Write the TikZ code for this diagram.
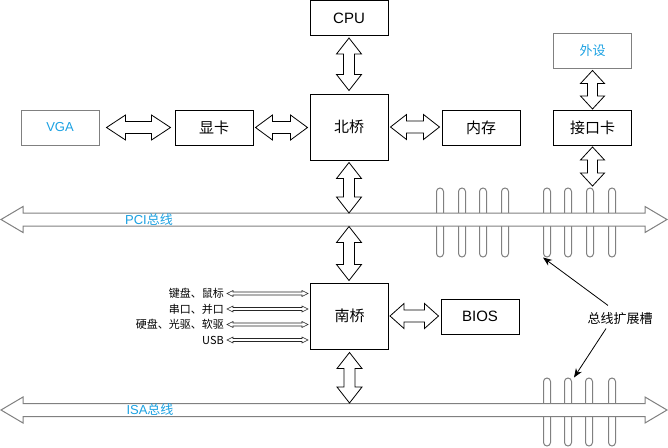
\documentclass[tikz,border=0pt]{standalone}
\usepackage{fontspec}
\setmainfont{Liberation Sans}
\newfontfamily\cjk{Noto Sans CJK SC}
\usetikzlibrary{calc,arrows.meta}
\definecolor{busblue}{HTML}{1BA1E2}
\definecolor{busgray}{HTML}{808080}

\newcommand{\hflex}[6][flex]{%
  \draw[#1] let \p1=(#2), \p2=(#3) in
    (\x1,\y1) -- (\x1+#4,\y1+#5) -- (\x1+#4,\y1+#6) -- (\x2-#4,\y1+#6)
    -- (\x2-#4,\y1+#5) -- (\x2,\y1) -- (\x2-#4,\y1-#5) -- (\x2-#4,\y1-#6)
    -- (\x1+#4,\y1-#6) -- (\x1+#4,\y1-#5) -- cycle;}
\newcommand{\vflex}[6][flex]{%
  \draw[#1] let \p1=(#2), \p2=(#3) in
    (\x1,\y1) -- (\x1+#5,\y1-#4) -- (\x1+#6,\y1-#4) -- (\x1+#6,\y2+#4)
    -- (\x1+#5,\y2+#4) -- (\x1,\y2) -- (\x1-#5,\y2+#4) -- (\x1-#6,\y2+#4)
    -- (\x1-#6,\y1-#4) -- (\x1-#5,\y1-#4) -- cycle;}

\begin{document}
\begin{tikzpicture}[x=1pt, y=-1pt,
  box/.style={draw, line width=1pt, minimum width=78pt, minimum height=35pt,
              inner sep=0pt, font=\fontsize{15pt}{18pt}\selectfont},
  cnbox/.style={box, font=\fontsize{15pt}{18pt}\selectfont\cjk},
  bridge/.style={cnbox, minimum height=66pt},
  outer/.style={box, draw=busgray, text=busblue, font=\fontsize{13pt}{16pt}\selectfont},
  slot/.style={draw=busgray, line width=1pt, rounded corners=3.5pt, minimum width=7pt,
               inner sep=0pt},
  flex/.style={draw=black, line width=0.8pt, fill=white},
  bus/.style={draw=busgray, line width=1pt, fill=white},
  thin/.style={draw=black!85, line width=0.6pt, fill=white},
  buslabel/.style={text=busblue, font=\fontsize{13pt}{16pt}\selectfont},
  small/.style={anchor=east, inner sep=1pt, font=\fontsize{11pt}{13pt}\selectfont\cjk},
  pointer/.style={-{Stealth[length=9pt,width=7pt]}, line width=0.8pt}
]
\useasboundingbox (0,0) rectangle (668,447);

\node[box]    (cpu)  at (349,18)    {CPU};
\node[bridge] (nb)   at (349,127)   {北桥};
\node[cnbox]  (gpu)  at (214,127.5) {显卡};
\node[outer]  (vga)  at (60,127.5)  {VGA};
\node[cnbox]  (mem)  at (481,127.5) {内存};
\node[cnbox]  (card) at (592.5,128) {接口卡};
\node[outer, font=\fontsize{13pt}{16pt}\selectfont\cjk] (dev) at (592.5,50.5) {外设};
\node[bridge] (sb)   at (349.5,316) {南桥};
\node[box]    (bios) at (480,316.5) {BIOS};

\foreach \x [count=\i] in {440,462,483,505,547,568,590,612}
  \node[slot, minimum height=69pt] (p\i) at (\x,222.5) {};
\foreach \x [count=\i] in {547,568,589,612}
  \node[slot, minimum height=68pt] (i\i) at (\x,412) {};

\coordinate (pciL) at (1,219.5);
\coordinate (pciR) at (667,219.5);
\coordinate (pciT) at (349,213);
\coordinate (pciB) at (349,226.5);
\coordinate (cardT) at (594,186);
\coordinate (isaL) at (1,410);
\coordinate (isaR) at (667,410);
\coordinate (isaT) at (349.5,403);

\hflex[bus]{pciL}{pciR}{22pt}{13pt}{6.5pt}
\hflex[bus]{isaL}{isaR}{22pt}{13pt}{6.5pt}
\node[buslabel] (pci) at (149,219.5) {PCI{\cjk 总线}};
\node[buslabel] (isa) at (150,410) {ISA{\cjk 总线}};

\hflex{[xshift=7pt]vga.east}{[xshift=-4pt]gpu.west}{19pt}{12.5pt}{6pt}
\hflex{[xshift=2pt]gpu.east}{[xshift=-2pt]nb.west}{17pt}{12.5pt}{6pt}
\hflex{[xshift=2pt]nb.east}{[xshift=-2pt]mem.west}{16pt}{12.5pt}{6pt}
\hflex{[xshift=1pt]sb.east}{[xshift=-2pt]bios.west}{14pt}{12.5pt}{6pt}
\vflex{[yshift=-2pt]cpu.south}{[yshift=3pt]nb.north}{16pt}{12.5pt}{5.5pt}
\vflex{[yshift=-2pt]nb.south}{pciT}{16pt}{12.5pt}{5.5pt}
\vflex{pciB}{[yshift=2pt]sb.north}{16pt}{12.5pt}{5.5pt}
\vflex{[yshift=-3pt]sb.south}{isaT}{16pt}{12.5pt}{5.5pt}
\vflex{[yshift=-2pt]dev.south}{[yshift=1pt]card.north}{13pt}{12pt}{5pt}
\vflex{[yshift=-1pt]card.south}{cardT}{13pt}{12pt}{5pt}

\node[small] (k1) at (225,293.5) {键盘、鼠标};
\node[small] (k2) at (225,309)   {串口、并口};
\node[small] (k3) at (225,324.5) {硬盘、光驱、软驱};
\node[small] (k4) at (225,340)   {USB};
\foreach \k in {k1,k2,k3,k4}{
  \hflex[thin]{[xshift=2pt]\k.east}{[xshift=-2pt]sb.west |- \k.east}{6pt}{3pt}{1.5pt}
}

\node[font=\fontsize{13pt}{16pt}\selectfont\cjk] (note) at (620,319) {总线扩展槽};
\draw[pointer] ([xshift=-12pt,yshift=4pt]note.north) -- (p5.south west);
\draw[pointer] ([xshift=-14pt]note.south) -- ([xshift=6pt]i2.north);
\end{tikzpicture}
\end{document}
